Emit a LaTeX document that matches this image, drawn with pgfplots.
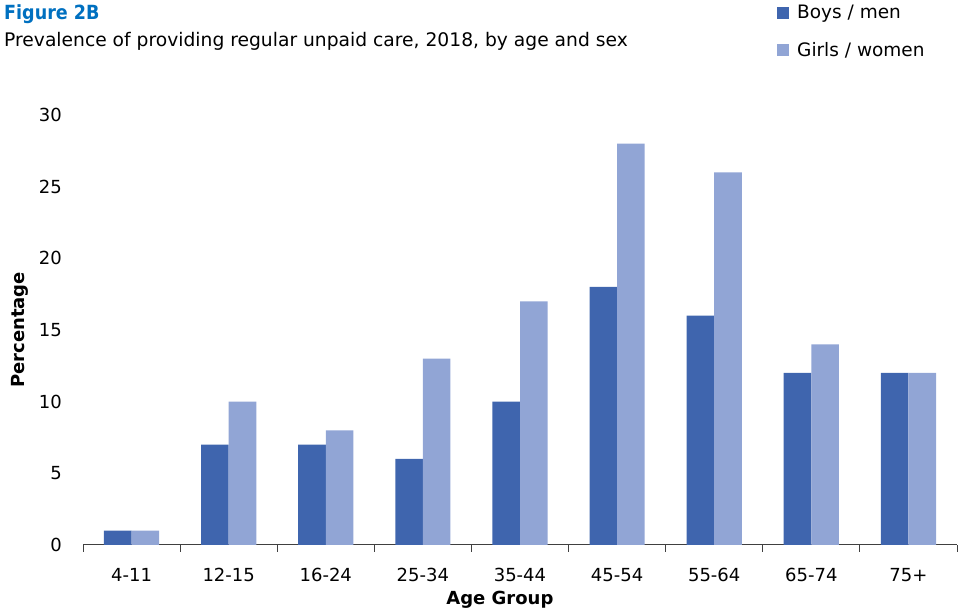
\documentclass[border=0pt]{standalone}
\usepackage{fontspec}
\setmainfont{DejaVu Sans}
\newfontfamily\condfont{DejaVu Sans Condensed}
\usepackage{pgfplots}
\pgfplotsset{compat=1.18}
\definecolor{boys}{RGB}{63,101,174}
\definecolor{girls}{RGB}{145,165,213}
\definecolor{figblue}{RGB}{0,112,192}
\definecolor{axisgray}{RGB}{64,64,64}
\begin{document}
\begin{tikzpicture}[x=1pt,y=1pt]
\useasboundingbox (0,0) rectangle (960,612);
\node[anchor=west, text=figblue, font=\condfont\fontsize{19.5}{21}\selectfont\bfseries, inner sep=0pt] at (4,598) {Figure 2B};
\node[anchor=west, font=\fontsize{18.7}{20}\selectfont, inner sep=0pt] at (4,571) {Prevalence of providing regular unpaid care, 2018, by age and sex};
\begin{axis}[
  at={(83pt,67pt)}, anchor=south west, scale only axis,
  width=874pt, height=430pt,
  ybar=0pt, bar width=27.6pt,
  xmin=-0.5, xmax=8.5, ymin=0, ymax=30,
  axis lines*=left, axis line style={-},
  x axis line style={axisgray, line width=1pt},
  y axis line style={draw=none},
  ytick={0,5,...,30},
  xtick={0,...,8},
  xticklabels={4-11,12-15,16-24,25-34,35-44,45-54,55-64,65-74,75+},
  minor xtick={-0.5,0.5,...,8.5},
  major tick length=0pt, minor tick length=7pt, tick align=outside,
  major tick style={draw=none},
  minor x tick style={axisgray, line width=1pt},
  /pgf/number format/assume math mode=true,
  tick label style={font=\fontsize{18}{20}\selectfont, inner sep=0pt},
  xticklabel style={anchor=north, yshift=-23pt},
  yticklabel style={anchor=east, xshift=-21pt},
  ylabel={Percentage}, xlabel={Age Group},
  label style={font=\fontsize{18}{20}\selectfont\bfseries},
  ylabel style={at={(axis description cs:-0.072,0.5)}, anchor=center},
  xlabel style={at={(axis description cs:0.477,-0.128)}, anchor=center},
  legend style={at={(axis description cs:0.794,1.26)}, anchor=north west, draw=none, fill=none,
    font=\fontsize{18.5}{20}\selectfont, row sep=18pt, inner sep=0pt,
    /tikz/every odd column/.append style={column sep=6pt}},
  legend cell align=left,
  legend image code/.code={\fill[#1] (0pt,-6pt) rectangle (12pt,6pt);},
]
\addplot[fill=boys, draw=none] coordinates {(0,1) (1,7) (2,7) (3,6) (4,10) (5,18) (6,16) (7,12) (8,12)};
\addplot[fill=girls, draw=none] coordinates {(0,1) (1,10) (2,8) (3,13) (4,17) (5,28) (6,26) (7,14) (8,12)};
\legend{Boys / men, Girls / women}
\end{axis}
\end{tikzpicture}
\end{document}
